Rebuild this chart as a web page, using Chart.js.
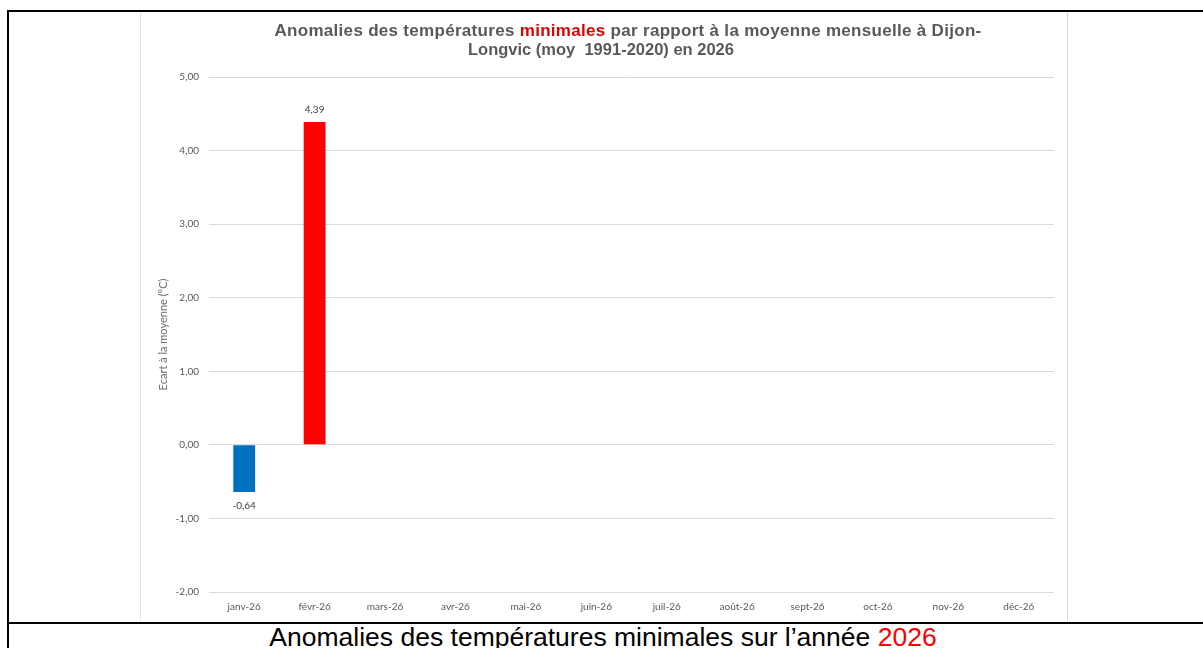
<!DOCTYPE html>
<html lang="fr">
<head>
<meta charset="UTF-8" />
<title>Anomalies des températures minimales 2026</title>
<script src="https://cdn.jsdelivr.net/npm/chart.js"></script>
<style>
  body { margin: 0; background: #fff; width: 1203px; height: 648px; overflow: hidden; position: relative; font-family: "Liberation Sans", Arial, sans-serif; }
  .cellule { position: absolute; left: 7px; top: 10px; width: 1300px; height: 610px; border-top: 2px solid #000; border-left: 2px solid #000; border-bottom: 2px solid #000; }
  .bas { position: absolute; left: 7px; top: 622px; width: 2px; height: 30px; background: #000; }
  .graphique { position: absolute; left: 140px; top: 12px; width: 926px; height: 609px; border-left: 1px solid #e3e3e3; border-right: 1px solid #d9d9d9; }
  .titre { position: absolute; white-space: pre; font-weight: bold; color: #595959; transform: translateX(-50%); }
  .titre span { color: #e00000; }
  .legende { position: absolute; top: 622px; left: 603px; transform: translateX(-50%); white-space: nowrap; font-size: 26.5px; color: #000; }
  .legende span { color: #ff0000; }
</style>
</head>
<body>
  <div class="cellule"></div>
  <div class="bas"></div>
  <div class="graphique"><canvas id="graphiqueAnomalies"></canvas></div>
  <div class="titre" style="left:628px; top:21px; font-size:17px; letter-spacing:0.3px;">Anomalies des températures <span>minimales</span> par rapport à la moyenne mensuelle à Dijon-</div>
  <div class="titre" style="left:601px; top:40px; font-size:16.5px;">Longvic (moy  1991-2020) en 2026</div>
  <div class="legende">Anomalies des températures minimales sur l’année <span>2026</span></div>

<script>
  // Données
  const mois = ["janv-26", "févr-26", "mars-26", "avr-26", "mai-26", "juin-26", "juil-26", "août-26", "sept-26", "oct-26", "nov-26", "déc-26"];
  const anomalies = [-0.64, 4.39, null, null, null, null, null, null, null, null, null, null];
  const graduations = [-2, -1, 0, 1, 2, 3, 4, 5];

  const virgule = v => v.toFixed(2).replace(".", ",");

  // Etiquettes des valeurs au-dessus / en-dessous des barres
  const etiquettes = {
    id: "etiquettes",
    afterDatasetsDraw(chart) {
      const ctx = chart.ctx;
      const meta = chart.getDatasetMeta(0);
      ctx.save();
      ctx.font = "10px Lato";
      ctx.fillStyle = "#404040";
      ctx.textAlign = "center";
      ctx.textBaseline = "middle";
      meta.data.forEach((barre, i) => {
        const v = anomalies[i];
        if (v === null) return;
        const y = v >= 0 ? barre.y - 12 : barre.y + 14;
        ctx.fillText(virgule(v), barre.x, y);
      });
      ctx.restore();
    }
  };

  new Chart(document.getElementById("graphiqueAnomalies"), {
    type: "bar",
    data: {
      labels: mois,
      datasets: [{
        data: anomalies,
        backgroundColor: anomalies.map(v => v < 0 ? "#0070c0" : "#ff0000"),
        categoryPercentage: 1,
        barPercentage: 0.31
      }]
    },
    options: {
      responsive: true,
      maintainAspectRatio: false,
      animation: false,
      layout: { padding: { top: 65, right: 13, left: 0, bottom: 0 } },
      plugins: {
        legend: { display: false },
        tooltip: { enabled: false }
      },
      scales: {
        x: {
          grid: { display: false, drawTicks: false },
          border: { display: false },
          ticks: { color: "#595959", font: { family: "Lato", size: 10 }, padding: 9, maxRotation: 0, autoSkip: false },
          afterFit: axe => { axe.height = 29; }
        },
        y: {
          min: -2,
          max: 5,
          afterBuildTicks: axe => { axe.ticks = graduations.map(v => ({ value: v })); },
          grid: { color: "#d9d9d9", drawTicks: false },
          border: { display: false },
          ticks: { color: "#595959", font: { family: "Lato", size: 10 }, padding: 10, callback: v => virgule(v) },
          title: {
            display: true,
            text: "Ecart à la moyenne (°C)",
            color: "#6b6b6b",
            font: { family: "Lato", size: 11, weight: "normal" },
            padding: { top: 16, bottom: 0 }
          },
          afterFit: axe => { axe.width = 68; }
        }
      }
    },
    plugins: [etiquettes]
  });
</script>
</body>
</html>
